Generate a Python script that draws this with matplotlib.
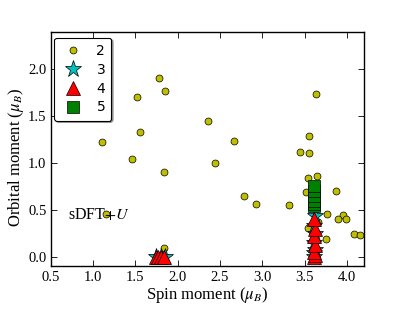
import matplotlib
matplotlib.use("Agg")
import matplotlib.pyplot as plt

# ---- data ----
x2 = [1.11, 1.52, 1.78, 1.85, 1.56, 1.46, 1.84, 2.36, 2.44, 2.66, 2.78, 2.92, 1.15, 1.84,
      3.63, 3.55, 3.45, 3.555, 3.64, 3.54, 3.87, 3.51, 3.32, 3.76, 3.95, 3.89, 3.99, 4.08,
      4.15, 3.75, 3.54, 3.66]
y2 = [1.22, 1.70, 1.90, 1.77, 1.33, 1.04, 0.91, 1.45, 1.00, 1.23, 0.65, 0.56, 0.46, 0.10,
      1.74, 1.29, 1.12, 1.11, 0.86, 0.84, 0.70, 0.69, 0.55, 0.46, 0.45, 0.41, 0.41, 0.24,
      0.23, 0.195, 0.305, 0.375]

x3 = [1.75, 1.80, 1.85, 3.61, 3.61, 3.62, 3.61, 3.62, 3.61, 3.62]
y3 = [0.0, 0.0, 0.0, 0.0, 0.04, 0.08, 0.15, 0.24, 0.33, 0.44]

x4 = [1.74, 1.77, 1.80, 1.84, 3.61, 3.62, 3.61, 3.62, 3.61, 3.62, 3.61]
y4 = [0.0, 0.0, 0.0, 0.0, 0.0, 0.02, 0.05, 0.13, 0.22, 0.30, 0.40]

x5 = [3.615, 3.615, 3.615, 3.615, 3.615, 3.615]
y5 = [0.54, 0.56, 0.60, 0.65, 0.70, 0.755]

labels = ["2", "3", "4", "5"]

xticks = [0.5, 1.0, 1.5, 2.0, 2.5, 3.0, 3.5, 4.0]
yticks = [0.0, 0.5, 1.0, 1.5, 2.0]

plt.rcParams['mathtext.fontset'] = 'stix'

fig = plt.figure(figsize=(4.15, 3.12), dpi=100)
ax = fig.add_axes([0.122, 0.146, 0.755, 0.753])

ax.plot(x2, y2, 'o', color=(0.75, 0.75, 0), mec='k', mew=0.5, ms=5, label=labels[0], ls='none')
ax.plot(x3, y3, '*', color=(0, 0.75, 0.75), mec='k', mew=0.5, ms=12.5, label=labels[1], ls='none')
ax.plot(x4, y4, '^', color='r', mec='k', mew=0.5, ms=9.5, label=labels[2], ls='none')
ax.plot(x5, y5, 's', color=(0, 0.5, 0), mec='k', mew=0.5, ms=8, label=labels[3], ls='none')

ax.set_xlim(0.5, 4.2)
ax.set_ylim(-0.1, 2.4)
ax.set_xticks(xticks)
ax.set_yticks(yticks)
ax.tick_params(direction='in', top=True, right=True, length=4, width=0.6, pad=3)
for lab in ax.get_xticklabels() + ax.get_yticklabels():
    lab.set_fontfamily('Liberation Serif')
    lab.set_fontsize(10.5)
for s in ax.spines.values():
    s.set_linewidth(1.0)

ax.set_xlabel(r'Spin moment ($\mu_B$)', fontfamily='Liberation Serif', fontsize=12, labelpad=1)
ax.set_ylabel(r'Orbital moment ($\mu_B$)', fontfamily='Liberation Serif', fontsize=12)
ax.yaxis.set_label_coords(-0.078, 0.463)

ax.text(0.70, 0.45, r'sDFT$+U$', fontfamily='Liberation Serif', fontsize=11.5, va='center', ha='left')

leg = ax.legend(loc='upper left', bbox_to_anchor=(0.011, 0.974), borderaxespad=0,
                numpoints=1, fancybox=True, shadow={'ox': 1.2, 'oy': -1.2}, fontsize=10,
                handletextpad=0.8, labelspacing=0.35, handlelength=1.8, borderpad=0.45)
leg.get_frame().set_edgecolor('k')
leg.get_frame().set_linewidth(0.8)

fig.savefig('out.png', dpi=100)
